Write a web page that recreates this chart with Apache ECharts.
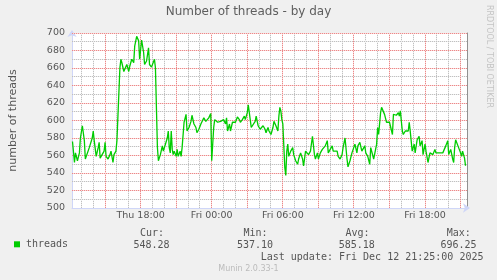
<!DOCTYPE html>
<html><head><meta charset="utf-8">
<script src="https://cdn.jsdelivr.net/npm/echarts@6/dist/echarts.min.js"></script>
<style>html,body{margin:0;padding:0;background:#f0f0f0}#c{width:497px;height:280px}</style>
</head><body><div id="c"></div>
<script>
// minutes since Thu Dec 11 00:00
const times = [735,745,750,760,770,775,785,795,800,810,820,825,835,840,845,855,865,870,875,885,895,900,905,915,925,930,940,945,955,960,970,975,980,985,995,1000,1010,1020,1025,1035,1045,1050,1060,1070,1075,1085,1095,1100,1110,1120,1125,1135,1145,1150,1155,1165,1170,1180,1190,1195,1205,1215,1220,1225,1230,1235,1240,1245,1250,1260,1265,1270,1280,1285,1290,1300,1305,1310,1315,1325,1335,1340,1350,1360,1365,1375,1385,1390,1400,1410,1415,1425,1435,1440,1445,1450,1455,1460,1470,1480,1485,1495,1500,1510,1515,1520,1530,1535,1545,1555,1560,1570,1580,1585,1595,1605,1610,1620,1625,1635,1640,1650,1660,1665,1675,1685,1690,1700,1710,1715,1725,1730,1740,1750,1755,1765,1775,1780,1785,1790,1795,1800,1805,1810,1815,1820,1825,1830,1840,1850,1855,1865,1875,1880,1890,1900,1905,1915,1925,1930,1940,1950,1955,1960,1965,1975,1980,1990,2000,2005,2015,2025,2030,2040,2050,2055,2065,2075,2080,2090,2100,2105,2115,2125,2130,2140,2150,2155,2165,2175,2180,2190,2200,2205,2215,2220,2230,2240,2245,2250,2260,2265,2275,2280,2285,2295,2300,2310,2315,2325,2335,2340,2350,2355,2360,2365,2375,2385,2390,2395,2405,2410,2420,2425,2435,2440,2445,2455,2465,2470,2480,2490,2495,2505,2510,2520,2525,2535,2545,2550,2560,2570,2575,2585,2595,2600,2610,2620,2625,2635,2640,2650,2660,2665,2670,2675,2685,2690,2700,2705,2710,2720,2725];
const threads = [576,552,563,554,563,580,594,577,556,554,569,571,580,588,577,559,569,575,557,557,565,575,559,556,561,565,552,561,565,577,575,660,670,666,656,655,664,656,662,670,666,685,696.25,691,670,692,678,664,668,683,664,661,662,670,660,569,554,561,571,565,565,580,588,569,563,588,567,561,565,559,567,559,565,559,569,598,596,607,588,592,599,606,596,592,586,590,596,598,603,599,601,603,608,554,552,592,601,599,598,596,599,598,601,596,603,588,596,588,598,598,598,604,601,598,601,605,601,609,618,601,592,590,599,605,594,590,592,594,590,586,592,588,584,592,599,594,588,605,615,611,601,596,596,546,537.1,565,573,559,565,569,561,554,550,556,563,556,548,565,563,561,565,582,580,561,556,563,556,563,567,565,571,577,563,567,571,565,565,565,559,556,561,569,580,556,547,554,563,561,573,563,571,575,565,565,571,563,559,550,569,571,556,557,573,592,584,609,615,613,607,598,596,598,596,584,607,609,606,609,605,611,588,584,588,586,588,598,588,565,573,563,578,582,571,577,561,573,565,552,563,565,561,567,563,565,563,565,563,563,571,577,561,567,556,552,569,578,580,569,563,559,565,557,548.28];

const xLabelTimes = [1080, 1440, 1800, 2160, 2520];
const xLabelText = ['Thu 18:00', 'Fri 00:00', 'Fri 06:00', 'Fri 12:00', 'Fri 18:00'];
const statHeaders = ['Cur:', 'Min:', 'Avg:', 'Max:'];
const statValues = ['548.28', '537.10', '585.18', '696.25'];
const lastUpdate = 'Last update: Fri Dec 12 21:25:00 2025';

const X_MIN = 732.5, X_MAX = 2732.5, Y_MIN = 500, Y_MAX = 700;
const GRAY = '#c0c0c0', GRAY_GAP = '#eeeeee', RED = '#ec8888', RED_GAP = '#f9dada';
// grid positions: [kind, value] kind 0 = vertical (time), 1 = horizontal (value)
const minorGrid = [], majorGrid = [];
for (let t = 780; t <= 2700; t += 60) (t % 180 === 0 ? majorGrid : minorGrid).push([0, t]);
for (let v = 510; v <= 700; v += 10) (v % 20 === 0 ? majorGrid : minorGrid).push([1, v]);

const data = times.map((t, i) => [t, threads[i]]);
const labelMap = {};
xLabelTimes.forEach((t, i) => labelMap[t] = xLabelText[i]);

const chart = echarts.init(document.getElementById('c'), null, {renderer: 'canvas'});
const mono = 'DejaVu Sans Mono';
const sans = 'DejaVu Sans';
// dotted grid line: faint 1px line with 1px dots every other pixel (rrdtool 1:1 dash)
const gridSeries = (name, items, color, gap) => ({
  name, type: 'custom', silent: true, z: 1, data: items,
  renderItem: (params, api) => {
    const kind = api.value(0), val = api.value(1);
    const lo = api.coord([X_MIN, Y_MIN]), hi = api.coord([X_MAX, Y_MAX]);
    const top = Math.ceil(hi[1]), bottom = Math.ceil(lo[1]), left = Math.ceil(lo[0]), right = Math.ceil(hi[0]);
    let d = '', base;
    if (kind === 0) {
      const X = Math.floor(api.coord([val, Y_MIN])[0]);
      base = {x: X, y: top, width: 1, height: bottom - top};
      for (let y = top; y < bottom; y += 2) d += 'M' + X + ' ' + y + 'h1v1h-1z';
    } else {
      const Y = Math.min(Math.floor(api.coord([X_MIN, val])[1]), bottom - 1);
      base = {x: left, y: Y, width: right - left, height: 1};
      for (let x = left; x < right; x += 2) d += 'M' + x + ' ' + Y + 'h1v1h-1z';
    }
    return {type: 'group', children: [
      {type: 'rect', shape: base, style: {fill: gap, stroke: null}},
      {type: 'path', shape: {pathData: d}, style: {fill: color, stroke: null}}
    ]};
  }
});

const TXT = '#555';
const hdrX = [140, 243.5, 345.5, 446.8];
const valX = [133.5, 237, 338.7, 440.5];
const graphics = [];
statHeaders.forEach((s, i) => graphics.push({type: 'text', x: hdrX[i], y: 233.3, style: {text: s, font: '10px ' + mono, fill: TXT, textVerticalAlign: 'middle'}}));
statValues.forEach((s, i) => graphics.push({type: 'text', x: valX[i], y: 245.3, style: {text: s, font: '10px ' + mono, fill: TXT, textVerticalAlign: 'middle'}}));
graphics.push({type: 'text', x: 260.7, y: 257.7, style: {text: lastUpdate, font: '10px ' + mono, fill: TXT, textVerticalAlign: 'middle'}});
graphics.push({type: 'text', x: 248.5, y: 269.3, style: {text: 'Munin 2.0.33-1', font: '8px ' + sans, fill: '#bbb', textAlign: 'center', textVerticalAlign: 'middle'}});
graphics.push({type: 'text', x: 489, y: 5, rotation: -Math.PI / 2, style: {text: 'RRDTOOL / TOBI OETIKER', font: '8px ' + sans, fill: '#c4c4c4', textAlign: 'left', textVerticalAlign: 'middle'}});

const AXIS = '#cfd6f8';
chart.setOption({
  animation: false,
  backgroundColor: '#f0f0f0',
  title: {text: 'Number of threads - by day', left: 'center', top: 6, padding: 0,
    textStyle: {fontFamily: sans, fontSize: 12, fontWeight: 'normal', color: '#5e5e5e'}},
  legend: {data: ['threads'], left: 14, top: 239.3, padding: 0, icon: 'rect', itemWidth: 6, itemHeight: 6,
    selectedMode: false, textStyle: {fontFamily: mono, fontSize: 10, color: TXT, padding: [0, 0, 0, 1]}},
  grid: {left: 67, top: 33, width: 400, height: 175, show: true, backgroundColor: '#ffffff', borderWidth: 0},
  xAxis: {type: 'value', min: X_MIN, max: X_MAX,
    axisLine: {lineStyle: {color: AXIS}, symbol: ['none', 'arrow'], symbolSize: [7, 7], symbolOffset: [0, 3]},
    axisTick: {show: false}, splitLine: {show: false},
    axisLabel: {customValues: xLabelTimes, formatter: v => labelMap[v] || '', color: TXT, fontFamily: sans, fontSize: 9.5, margin: 3}},
  yAxis: [{type: 'value', min: Y_MIN, max: Y_MAX, interval: 20,
    name: 'number of threads', nameLocation: 'middle', nameGap: 53,
    nameTextStyle: {fontFamily: sans, fontSize: 11, color: TXT},
    axisLine: {show: true, lineStyle: {color: AXIS}, symbol: ['none', 'arrow'], symbolSize: [7, 7], symbolOffset: [0, 3]},
    axisTick: {show: false}, splitLine: {show: false},
    axisLabel: {color: TXT, fontFamily: sans, fontSize: 9.5, margin: 7}},
   {type: 'value', min: Y_MIN, max: Y_MAX, position: 'right',
    axisLine: {show: true, lineStyle: {color: '#909090', width: 1}}, axisTick: {show: false},
    axisLabel: {show: false}, splitLine: {show: false}}],
  graphic: graphics,
  series: [
    gridSeries('gridMinor', minorGrid, GRAY, GRAY_GAP),
    gridSeries('gridMajor', majorGrid, RED, RED_GAP),
    {name: 'threads', type: 'line', data, z: 5, showSymbol: false, symbol: 'none',
     lineStyle: {color: '#00cc00', width: 1.3}, itemStyle: {color: '#00cc00'}}
  ]
});
</script></body></html>
